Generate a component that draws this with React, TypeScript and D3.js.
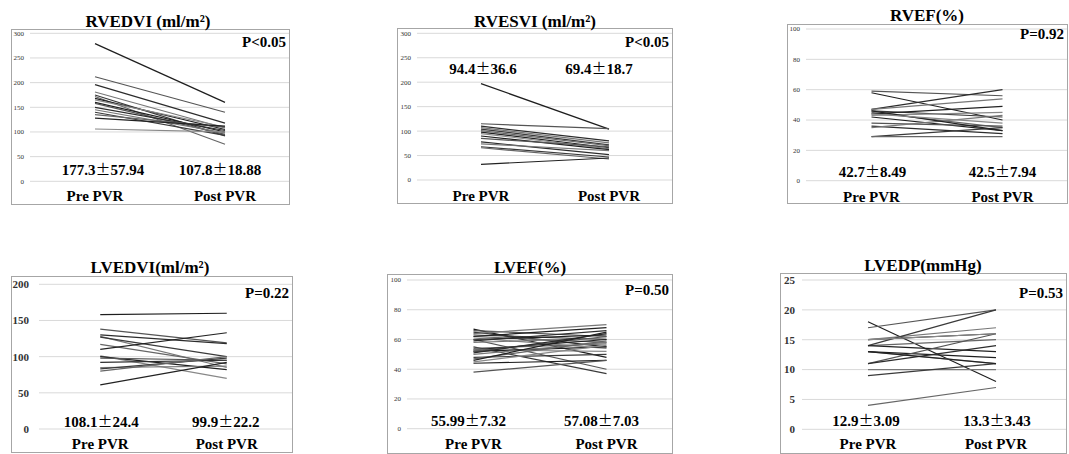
import React from 'react';
import * as d3 from 'd3';

// categories on the x axis
const cats = ['Pre PVR', 'Post PVR'];

// paired values (one line per patient)
const rvedviPre = [279, 212, 196, 181, 175, 172, 168, 165, 160, 158, 150, 145, 140, 135, 128, 106];
const rvedviPost = [160, 140, 118, 108, 92, 75, 105, 110, 100, 95, 103, 98, 93, 110, 112, 100];

const rvesviPre = [197, 115, 110, 107, 104, 101, 98, 95, 90, 85, 78, 74, 68, 66, 32];
const rvesviPost = [104, 105, 80, 76, 72, 70, 66, 64, 62, 68, 52, 60, 47, 43, 45];

const rvefPre = [58, 59, 47, 47, 46, 45, 44, 43, 42, 38, 36, 35, 29, 29, 46, 44];
const rvefPost = [40, 56, 60, 54, 42, 35, 49, 45, 33, 36, 31, 43, 35, 29, 33, 38];

const lvedviPre = [158, 138, 130, 128, 127, 117, 110, 101, 100, 98, 92, 85, 83, 80, 61];
const lvedviPost = [160, 119, 118, 85, 100, 90, 133, 70, 82, 95, 95, 87, 98, 100, 92];

const lvefPre = [67, 66, 65, 64, 63, 62, 62, 61, 60, 60, 59, 58, 55, 54, 53, 53, 52, 52, 51, 50, 48, 47, 46, 45, 44, 38];
const lvefPost = [48, 62, 55, 70, 60, 58, 68, 54, 63, 40, 66, 61, 37, 57, 60, 52, 55, 62, 64, 58, 50, 59, 65, 56, 46, 46];

const lvedpPre = [18, 17, 15, 15, 14, 14, 14, 13, 13, 11, 11, 10, 9, 4, 13, 15];
const lvedpPost = [8, 20, 16, 17, 20, 15, 13, 11, 12, 16, 14, 10, 11, 7, 11, 16];

// tick values per panel
const ticks300 = [0, 50, 100, 150, 200, 250, 300];
const ticks100 = [0, 20, 40, 60, 80, 100];
const ticks200 = [0, 50, 100, 150, 200];
const ticks25 = [0, 5, 10, 15, 20, 25];

// labels
const titles = ['RVEDVI (ml/m²)', 'RVESVI (ml/m²)', 'RVEF(%)', 'LVEDVI(ml/m²)', 'LVEF(%)', 'LVEDP(mmHg)'];
const pLabels = ['P<0.05', 'P<0.05', 'P=0.92', 'P=0.22', 'P=0.50', 'P=0.53'];
const meanPre = ['177.3±57.94', '94.4±36.6', '42.7±8.49', '108.1±24.4', '55.99±7.32', '12.9±3.09'];
const meanPost = ['107.8±18.88', '69.4±18.7', '42.5±7.94', '99.9±22.2', '57.08±7.03', '13.3±3.43'];

const lineColors = ['#1e1e1e', '#555', '#2c2c2c', '#777', '#3a3a3a', '#666', '#222', '#888'];
const font = 'Liberation Serif, DejaVu Serif, serif';
const cjk = 'Noto Sans CJK JP, Liberation Serif, serif';

// box = frame, gx = gridline start, xr = category scale range, md = mean label nudges
const panels = [
  { pre: rvedviPre, post: rvedviPost, ticks: ticks300, box: [11, 29, 290, 205], gx: 30, xr: [30, 290], yTop: 33.3, yZero: 181.3, tickFs: 7, tickBold: false, tickGap: 6, titleX: 148, titleY: 27, pY: 47, meanY: 175, md: [8, -5], catY: 201 },
  { pre: rvesviPre, post: rvesviPost, ticks: ticks300, box: [397, 28, 673, 204], gx: 417, xr: [417, 673], yTop: 33.3, yZero: 180, tickFs: 7, tickBold: false, tickGap: 6, titleX: 535, titleY: 27, pY: 47, meanY: 74, md: [2, -10], catY: 201 },
  { pre: rvefPre, post: rvefPost, ticks: ticks100, box: [787, 24, 1068, 204], gx: 806, xr: [806, 1068], yTop: 29, yZero: 180.7, tickFs: 7, tickBold: false, tickGap: 6, titleX: 927, titleY: 21, pY: 39, meanY: 177, md: [1, 0], catY: 202 },
  { pre: lvedviPre, post: lvedviPost, ticks: ticks200, box: [11, 276, 293, 453], gx: 39, xr: [37, 290], yTop: 284.3, yZero: 429, tickFs: 11, tickBold: true, tickGap: 10, titleX: 150, titleY: 273, pY: 298, meanY: 427, md: [1, -1], catY: 449 },
  { pre: lvefPre, post: lvefPost, ticks: ticks100, box: [387, 274, 673, 454], gx: 407, xr: [407, 673], yTop: 280, yZero: 428.7, tickFs: 7, tickBold: false, tickGap: 6, titleX: 530, titleY: 273, pY: 295, meanY: 426, md: [-5, -5], catY: 449 },
  { pre: lvedpPre, post: lvedpPost, ticks: ticks25, box: [780, 273, 1067, 454], gx: 802, xr: [804, 1060], yTop: 280, yZero: 429.3, tickFs: 11, tickBold: true, tickGap: 7, titleX: 923, titleY: 271, pY: 298, meanY: 426, md: [-2, 1], catY: 449 },
];

// mean ± sd, with the ± drawn full width like the original
const MeanText = ({ x, y, s }: { x: number; y: number; s: string }) => {
  const [a, b] = s.split('±');
  return (
    <text x={x} y={y} textAnchor="middle" fontSize={15} fontWeight="bold">
      {a}<tspan style={{ fontFamily: cjk }} fontWeight="normal">±</tspan>{b}
    </text>
  );
};

const Panel = ({ p, i }: { p: any; i: number }) => {
  const [x0, y0, x1, y1] = p.box;
  const x = d3.scaleBand().domain(cats).range(p.xr);
  const cx = (c: string) => (x(c) as number) + x.bandwidth() / 2;
  const y = d3.scaleLinear().domain([0, d3.max(p.ticks) as number]).range([p.yZero, p.yTop]);
  const line = d3.line<[string, number]>().x(d => cx(d[0])).y(d => y(d[1]));

  return (
    <g>
      <rect x={x0 + 0.5} y={y0 + 0.5} width={x1 - x0 - 1} height={y1 - y0 - 1} fill="#fff" stroke="#a6a6a6" />
      {p.ticks.map((t: number) => (
        <g key={t}>
          <line x1={p.gx} x2={x1 - 1} y1={y(t)} y2={y(t)} stroke="#d9d9d9" />
          <text x={p.gx - p.tickGap} y={y(t)} dy="0.35em" textAnchor="end" fontSize={p.tickFs}
            fontWeight={p.tickBold ? 'bold' : 'normal'} fill="#333">{t}</text>
        </g>
      ))}
      {p.pre.map((v: number, k: number) => (
        <path key={k} d={line([[cats[0], v], [cats[1], p.post[k]]]) as string} fill="none"
          stroke={lineColors[k % lineColors.length]} strokeWidth={1.2} />
      ))}
      <text x={p.titleX} y={p.titleY} textAnchor="middle" fontSize={17} fontWeight="bold">{titles[i]}</text>
      <text x={x1 - 4} y={p.pY} textAnchor="end" fontSize={15} fontWeight="bold">{pLabels[i]}</text>
      <MeanText x={cx(cats[0]) + p.md[0]} y={p.meanY} s={meanPre[i]} />
      <MeanText x={cx(cats[1]) + p.md[1]} y={p.meanY} s={meanPost[i]} />
      {cats.map(c => (
        <text key={c} x={cx(c)} y={p.catY} textAnchor="middle" fontSize={15} fontWeight="bold">{c}</text>
      ))}
    </g>
  );
};

const App = () => (
  <svg width={1069} height={454} style={{ position: 'absolute', left: 0, top: 0, background: '#fff', fontFamily: font }}>
    {panels.map((p, i) => <Panel key={i} p={p} i={i} />)}
  </svg>
);

export default App;
